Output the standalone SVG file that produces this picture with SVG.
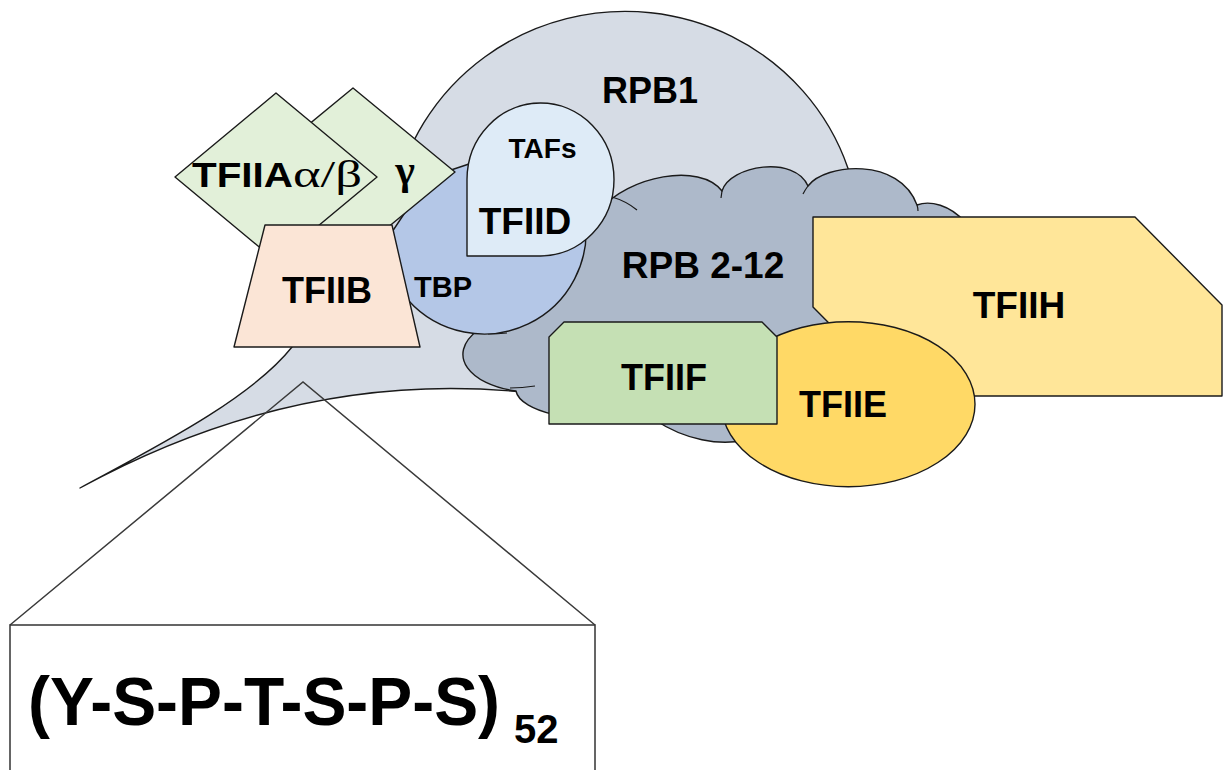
<svg xmlns="http://www.w3.org/2000/svg" width="1223" height="770" viewBox="0 0 1223 770">
<style>
.o{stroke:#1a1a1a;stroke-width:1.4;stroke-linejoin:round}
.t{font-family:"Liberation Sans",Arial,sans-serif;font-weight:bold;fill:#000;text-anchor:middle}
.g{font-family:"Liberation Serif","DejaVu Serif",serif;fill:#000}
.ln{fill:none;stroke:#3a3a3a;stroke-width:1.5}
</style>
<rect width="1223" height="770" fill="#fff"/>
<g id="RPB1">
<path class="o" fill="#D6DCE5" d="M80,488 C150,450 250,400 292,347 L330,290 L394,200 A235 230 0 0 1 860,250 L860,330 L560,395 L522,392 C400,380 250,395 80,488 Z"/>
<text class="t" x="650" y="103" font-size="36">RPB1</text>
</g>
<g id="connectors">
<path class="ln" d="M10,625 L303,382 L595,625"/>
</g>
<g id="CTD">
<rect x="10" y="625" width="585" height="200" fill="#fff" stroke="#333" stroke-width="1.5"/>
<text x="28" y="725" font-family="Liberation Sans,Arial,sans-serif" font-weight="bold" font-size="68" textLength="472" lengthAdjust="spacingAndGlyphs">(Y-S-P-T-S-P-S)</text>
<text x="514" y="743" font-family="Liberation Sans,Arial,sans-serif" font-weight="bold" font-size="40">52</text>
</g>
<g id="RPB2-12">
<path class="o" fill="#ADB9CA" d="M600,210 C628,176 700,162 722,191 C730,165 795,155 808,186 C825,163 900,157 917,205 C930,200 950,205 965,222 L985,300 L900,400 L745,440 C720,446 685,440 655,420 L560,418 L552,414 C535,410 518,402 516,391 C470,385 445,355 478,330 L540,260 L590,215 Z"/>
<path fill="none" stroke="#1a1a1a" stroke-width="1.2" d="M612,197 Q626,201 637,210 M722,191 L721,198 M808,186 Q805,190 803,194 M917,205 Q918,208 918,211 M510,388 Q522,388 535,386 M488,334 Q498,334 507,333"/>
<text class="t" x="703" y="278" font-size="37">RPB 2-12</text>
</g>
<g id="TFIIH">
<polygon class="o" fill="#FFE699" points="813,217 1135,217 1222,305 1222,396 901,396 813,307"/>
<text class="t" x="1019" y="318" font-size="37">TFIIH</text>
</g>
<g id="TFIIE">
<ellipse class="o" fill="#FFD966" cx="848.3" cy="404.2" rx="126.7" ry="82.5"/>
<text class="t" x="843" y="417" font-size="36">TFIIE</text>
</g>
<g id="TFIIF">
<polygon class="o" fill="#C5E0B4" points="549,337 564,322 762,322 777,337 777,424 549,424"/>
<text class="t" x="664" y="390" font-size="36">TFIIF</text>
</g>
<g id="TBP">
<path class="o" fill="#B4C7E7" d="M584.6,215 A102 102 0 0 1 408,300 L390,235 L420,190 L448,171 L469,164 L560,172 Z"/>
<text class="t" x="443" y="297" font-size="29">TBP</text>
</g>
<g id="TFIID">
<path class="o" fill="#DEEBF7" d="M467,256 L467,179.5 A73.5 76.5 0 1 1 540.5,256 Z"/>
<text class="t" x="542.5" y="158" font-size="28">TAFs</text>
<text class="t" x="525" y="234" font-size="37">TFIID</text>
</g>
<g id="TFIIA-gamma">
<polygon class="o" fill="#E2F0D9" points="353,88 455,172 353,256 251,172"/>
<text class="g" x="405" y="184" font-size="42" font-weight="bold" text-anchor="middle">γ</text>
</g>
<g id="TFIIA-alpha-beta">
<polygon class="o" fill="#E2F0D9" points="276,93 377,177 276,261 175,177"/>
<text x="192" y="187" font-family="Liberation Sans,Arial,sans-serif" font-weight="bold" font-size="35" textLength="101" lengthAdjust="spacingAndGlyphs">TFIIA</text>
<text class="g" x="293" y="187" font-size="38" textLength="69" lengthAdjust="spacingAndGlyphs">α/β</text>
</g>
<g id="TFIIB">
<polygon class="o" fill="#FBE5D6" points="265,225 392,225 420,347 234,347"/>
<text class="t" x="327" y="303" font-size="36">TFIIB</text>
</g>
</svg>
